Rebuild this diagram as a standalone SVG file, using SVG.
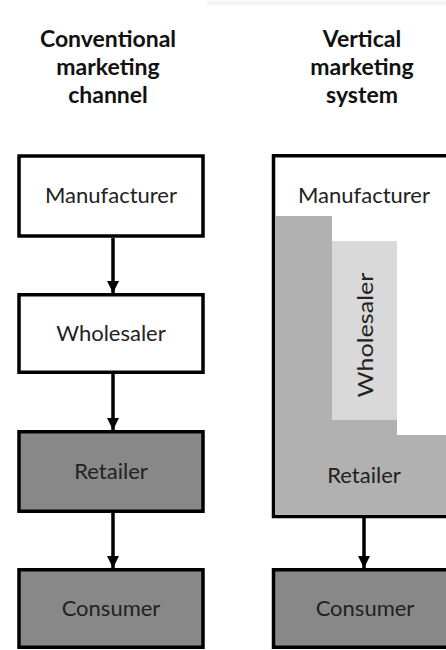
<svg xmlns="http://www.w3.org/2000/svg" width="446" height="650" viewBox="0 0 446 650">
<defs>
<style>
.box{stroke:#000;stroke-width:3.5}
.white{fill:#fff}
.dark{fill:#888888}
.lbl{font-family:Lato,"Open Sans","Liberation Sans",sans-serif;font-size:22px;fill:#222;text-anchor:middle}
.title{font-family:Lato,"Open Sans","Liberation Sans",sans-serif;font-size:23px;font-weight:bold;fill:#111;text-anchor:middle}
.conn{stroke:#000;stroke-width:3.5;fill:none}
</style>
<marker id="ah" markerUnits="userSpaceOnUse" markerWidth="12" markerHeight="13" refX="12" refY="6" orient="auto" viewBox="0 0 12 12">
<path d="M0,0 L12,6 L0,12 Z" fill="#000"/>
</marker>
</defs>
<rect x="207" y="1" width="239" height="4" fill="#f3f3f3"/>
<g id="titles">
<text class="title" x="108" y="47">Conventional</text>
<text class="title" x="108" y="75">marketing</text>
<text class="title" x="108" y="103">channel</text>
<text class="title" x="362" y="47">Vertical</text>
<text class="title" x="362" y="75">marketing</text>
<text class="title" x="362" y="103">system</text>
</g>
<g id="conv-manufacturer">
<rect class="box white" x="19" y="156" width="184" height="80"/>
<text class="lbl" x="111" y="203">Manufacturer</text>
</g>
<g id="conv-wholesaler">
<rect class="box white" x="19" y="294.75" width="184" height="77.5"/>
<text class="lbl" x="111" y="341">Wholesaler</text>
</g>
<g id="conv-retailer">
<rect class="box dark" x="19" y="431.75" width="184" height="79.5"/>
<text class="lbl" x="111" y="479">Retailer</text>
</g>
<g id="conv-consumer">
<rect class="box dark" x="19" y="569.75" width="184" height="77.5"/>
<text class="lbl" x="111" y="616">Consumer</text>
</g>
<g id="vms">
<rect class="box white" x="273.5" y="155.75" width="200" height="360.75"/>
<path d="M275.3,216 H332 V420 H397 V435 H446 V514.7 H275.3 Z" fill="#b1b1b1"/>
<rect x="332" y="241" width="65" height="179" fill="#d9d9d9"/>
<text class="lbl" x="364" y="203">Manufacturer</text>
<text class="lbl" transform="translate(373,335) rotate(-90)" textLength="125" lengthAdjust="spacingAndGlyphs">Wholesaler</text>
<text class="lbl" x="364" y="483">Retailer</text>
</g>
<g id="vms-consumer">
<rect class="box dark" x="273.5" y="569.75" width="200" height="77.5"/>
<text class="lbl" x="365" y="616">Consumer</text>
</g>
<g id="connectors">
<line class="conn" x1="113" y1="238" x2="113" y2="293" marker-end="url(#ah)"/>
<line class="conn" x1="113" y1="374" x2="113" y2="430" marker-end="url(#ah)"/>
<line class="conn" x1="113" y1="513" x2="113" y2="568" marker-end="url(#ah)"/>
<line class="conn" x1="364" y1="518" x2="364" y2="568" marker-end="url(#ah)"/>
</g>
</svg>
